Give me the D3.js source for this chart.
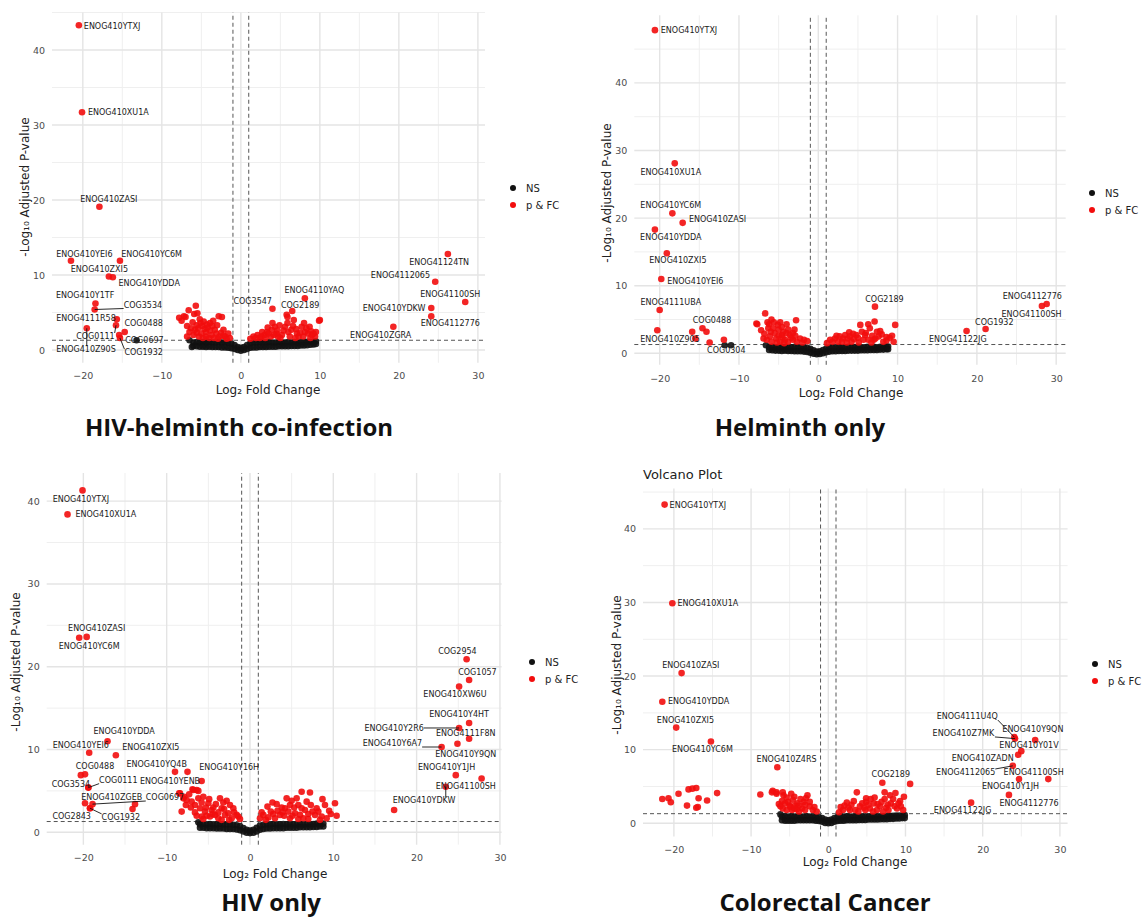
<!DOCTYPE html>
<html>
<head>
<meta charset="utf-8">
<script src="https://cdn.jsdelivr.net/npm/d3@7"></script>
<style>
  body { margin: 0; background: #fff; }
  svg text { font-family: "DejaVu Sans", sans-serif; }
  svg text.title { font-family: "Open Sans", sans-serif; font-weight: 700; }
</style>
</head>
<body>
<svg id="chart" width="1143" height="920"></svg>
<script>
// tick values shared by all four plots
var xTicks = [-20, -10, 0, 10, 20, 30];
var xMinor = [-25, -15, -5, 5, 15, 25];
var yTicks = [0, 10, 20, 30, 40];
var yMinor = [5, 15, 25, 35, 45];
var legendKeys = ["NS", "p & FC"];
var fcCut = 1;          // log2 fold change cut-off
var pCut = 1.3;         // -log10(0.05)

// ---------- HIV-helminth co-infection ----------
var ns1 = [[-6.0,1.0],[-5.6,1.05],[-5.2,1.0],[-4.8,1.05],[-4.4,1.0],[-4.0,1.05],[-3.6,1.0],[-3.2,1.0],[-2.8,1.05],[-2.4,1.0],[-2.0,1.0],[-1.6,0.95],[-1.2,0.85],[-0.8,0.65],[-0.4,0.4],[0,0.3],[0.4,0.4],[0.8,0.65],[1.2,0.9],[1.6,1.0],[2.0,1.0],[2.4,1.05],[2.8,1.0],[3.2,1.0],[3.6,1.05],[4.0,1.0],[4.4,1.0],[4.8,1.05],[5.2,1.0],[5.6,1.0],[6.0,1.05],[6.4,1.0],[6.8,1.05],[7.2,1.0],[7.6,1.05],[8.0,1.05],[8.4,1.1],[8.8,1.1],[9.2,1.1],[9.5,1.15],
  [-6.0,0.55],[-5.6,0.5],[-5.2,0.45],[-4.8,0.45],[-4.4,0.4],[-4.0,0.45],[-3.6,0.4],[-3.2,0.4],[-2.8,0.4],[-2.4,0.35],[-2.0,0.35],[-1.6,0.3],[-1.2,0.25],[-0.8,0.15],[-0.4,0.0],[0,-0.1],[0.4,0.0],[0.8,0.15],[1.2,0.3],[1.6,0.35],[2.0,0.35],[2.4,0.4],[2.8,0.4],[3.2,0.4],[3.6,0.45],[4.0,0.45],[4.4,0.45],[4.8,0.5],[5.2,0.5],[5.6,0.5],[6.0,0.5],[6.4,0.55],[6.8,0.55],[7.2,0.55],[7.6,0.6],[8.0,0.6],[8.4,0.65],[8.8,0.7],[9.2,0.75],[9.5,0.8],
  [-6.5,1.3],[-6.2,0.4],[-13.2,1.3]];
var sig1 = [[-7.8,4.3],[-7.2,4.5],[-6.6,5.3],[-5.7,5.9],[-6.1,3.7],[-5.9,4.8],[-5.6,3.3],[-5.1,3.6],[-4.9,3.2],[-5.4,2.9],[-5.8,2.7],[-4.6,2.8],[-3.9,3.6],[-3.6,3.2],[-3.3,2.7],[-2.8,4.5],[-2.4,4.4],[-4.4,2.4],[-5.0,2.2],[-3.1,2.2],[-2.5,2.3],[-3.7,2.0],[-2.0,1.8],[-1.4,1.6],[-2.7,1.8],[-6.5,2.4],[-5.3,1.8],[-4.4,1.8],[-6.0,2.0],[-4.0,1.6],[-3.4,1.6],[-5.5,4.9],[-7.0,4.4],[-4.2,3.0],[-1.8,1.5],
  [-7.5,3.9],[-6.8,3.2],[-6.3,2.9],[-5.2,4.1],[-4.7,3.8],[-4.3,3.4],[-3.5,3.9],[-3.0,3.3],[-2.2,2.7],[-1.6,2.2],[-5.6,2.3],[-4.8,1.6],[-2.9,1.5],[-6.8,1.8],[-3.9,2.6],[-2.2,1.9],
  [1.6,1.8],[2.1,2.0],[2.7,2.4],[3.3,2.4],[3.9,2.7],[4.5,2.2],[4.9,3.3],[5.6,3.1],[5.9,3.6],[5.8,4.7],[6.4,2.7],[6.7,4.0],[7.1,2.2],[7.7,3.1],[8.1,2.4],[8.5,2.2],[8.7,3.1],[9.0,2.0],[9.9,3.9],[5.2,2.0],[3.8,1.8],[2.4,1.6],[3.0,2.0],[4.7,1.8],[6.2,1.8],[7.3,1.8],[7.9,1.8],[9.4,1.8],[6.0,2.4],[4.3,3.1],[10.0,4.0],[5.9,4.4],[1.2,1.5],[8.8,1.6],[3.5,2.2],
  [1.9,1.6],[2.6,1.8],[3.4,3.0],[4.0,3.6],[4.6,2.6],[5.0,1.6],[5.4,2.6],[6.6,3.2],[7.0,2.8],[7.5,2.3],[8.3,2.9],[8.9,2.5],[9.2,2.2],[6.9,1.6],[4.2,2.0],[3.1,1.6],[8.0,3.6],[9.5,2.4]];
// name, log2FC, -log10 p, label x, label y, leader line
var lab1 = [["ENOG410YTXJ",-20.5,43.3,-16.3,43.1,0],["ENOG410XU1A",-20.1,31.7,-15.5,31.7,0],["ENOG410ZASI",-17.9,19.1,-16.7,20.1,0],
  ["ENOG410YEI6",-21.5,11.9,-19.8,12.8,0],["ENOG410YC6M",-15.3,11.9,-11.3,12.8,0],["ENOG410ZXI5",-16.7,9.8,-17.9,10.8,0],
  ["ENOG410YDDA",-16.2,9.7,-11.6,8.9,0],["ENOG410Y1TF",-18.4,6.2,-19.7,7.3,0],["COG3534",-18.5,5.4,-12.4,6.0,1],
  ["ENOG4111R58",-15.7,4.1,-19.6,4.2,0],["COG0488",-14.7,2.4,-12.3,3.6,0],["COG0111",-15.8,3.3,-18.4,1.8,1],
  ["COG0697",-15.4,2.0,-12.2,1.3,0],["ENOG410Z90S",-19.5,2.9,-19.6,0.1,1],["COG1932",-15.3,1.6,-12.3,-0.35,1],
  ["ENOG41124TN",26.2,12.8,25.1,11.7,0],["ENOG4112065",24.6,9.1,20.2,10.0,0],["ENOG41100SH",28.4,6.4,26.5,7.4,0],
  ["ENOG410YDKW",24.1,5.6,19.4,5.6,0],["ENOG4112776",24.1,4.5,26.5,3.5,0],["ENOG410ZGRA",19.3,3.1,17.7,2.0,0],
  ["ENOG4110YAQ",8.1,6.9,9.3,7.9,0],["COG2189",6.5,5.2,7.5,6.0,0],["COG3547",4.0,5.5,1.5,6.5,0]];

// ---------- Helminth only ----------
var ns2 = [[-6.2,0.9],[-5.8,0.95],[-5.4,0.9],[-5.0,0.95],[-4.6,0.9],[-4.2,0.95],[-3.8,0.9],[-3.4,0.9],[-3.0,0.95],[-2.6,0.9],[-2.2,0.9],[-1.8,0.85],[-1.4,0.8],[-1.0,0.65],[-0.6,0.45],[-0.2,0.25],[0.2,0.3],[0.6,0.5],[1.0,0.7],[1.4,0.85],[1.8,0.9],[2.2,0.9],[2.6,0.95],[3.0,0.9],[3.4,0.9],[3.8,0.95],[4.2,0.9],[4.6,0.9],[5.0,0.95],[5.4,0.9],[5.8,0.9],[6.2,0.95],[6.6,0.9],[7.0,0.95],[7.4,0.9],[7.8,0.95],[8.2,0.95],[8.6,1.0],[8.8,1.0],
  [-6.2,0.5],[-5.8,0.45],[-5.4,0.4],[-5.0,0.4],[-4.6,0.35],[-4.2,0.4],[-3.8,0.35],[-3.4,0.35],[-3.0,0.3],[-2.6,0.3],[-2.2,0.3],[-1.8,0.25],[-1.4,0.2],[-1.0,0.1],[-0.6,-0.05],[-0.2,-0.15],[0.2,-0.1],[0.6,0.0],[1.0,0.15],[1.4,0.25],[1.8,0.3],[2.2,0.3],[2.6,0.35],[3.0,0.35],[3.4,0.35],[3.8,0.4],[4.2,0.4],[4.6,0.4],[5.0,0.4],[5.4,0.45],[5.8,0.45],[6.2,0.45],[6.6,0.5],[7.0,0.5],[7.4,0.5],[7.8,0.55],[8.2,0.55],[8.6,0.6],[8.8,0.6],
  [-6.6,1.2],[-11.0,1.2]];
var sig2 = [[-7.7,4.3],[-6.7,5.9],[-6.2,4.3],[-6.3,3.7],[-5.7,3.7],[-5.0,3.5],[-4.4,3.2],[-3.8,3.5],[-2.8,4.9],[-3.6,2.7],[-6.1,2.5],[-5.3,2.2],[-4.6,2.7],[-4.2,2.0],[-3.2,2.0],[-2.3,2.2],[-1.4,1.8],[-5.9,1.7],[-4.8,1.7],[-3.8,1.7],[-5.5,3.0],[-3.2,3.0],[-4.6,3.9],[-2.7,1.7],[-6.5,2.0],[-5.1,4.2],[-4.0,4.3],
  [-7.2,3.4],[-6.8,2.9],[-6.0,3.2],[-5.6,4.6],[-5.0,2.6],[-4.5,2.3],[-4.0,3.0],[-3.4,2.3],[-2.9,2.6],[-2.0,1.6],[-6.4,4.6],[-5.2,1.6],[-4.3,1.5],[-3.0,3.5],[-1.8,2.0],[-6.9,2.2],[-5.9,5.0],[-4.8,4.6],
  [1.5,2.0],[2.1,2.2],[2.7,2.5],[3.4,2.7],[4.0,2.5],[4.8,2.7],[5.3,4.2],[5.9,2.7],[6.3,4.3],[6.5,3.7],[7.1,4.7],[7.4,3.2],[7.6,2.5],[9.0,2.3],[9.7,4.2],[9.5,1.7],[8.2,1.7],[6.3,2.0],[4.2,1.7],[3.0,1.7],[2.5,1.7],[5.7,2.0],[3.7,2.2],[7.0,2.0],[1.1,1.5],[8.6,1.9],
  [1.8,1.7],[2.3,2.6],[3.1,2.2],[3.6,1.6],[4.4,2.9],[4.5,2.1],[5.0,2.3],[5.5,3.2],[6.0,3.0],[6.8,2.6],[7.2,2.2],[8.0,2.8],[8.6,2.4],[9.3,2.6],[7.8,3.3],[5.1,1.6],[6.7,1.6],[3.9,3.1],
  [-7.8,4.4],[-20.3,3.4],[-14.1,3.2],[-15.9,3.2],[-13.7,1.6],[-11.9,2.0]];
var lab2 = [["ENOG410YTXJ",-20.6,47.8,-16.3,47.7,0],["ENOG410XU1A",-18.1,28.1,-18.6,26.7,0],["ENOG410YC6M",-18.4,20.7,-18.6,21.8,0],
  ["ENOG410ZASI",-17.1,19.3,-12.7,19.8,0],["ENOG410YDDA",-20.6,18.3,-18.6,17.1,0],["ENOG410ZXI5",-19.1,14.8,-17.7,13.7,0],
  ["ENOG410YEI6",-19.8,11.0,-15.5,10.6,0],["ENOG4111UBA",-20.0,6.4,-18.6,7.5,0],["COG0488",-14.6,3.7,-13.4,4.8,0],
  ["ENOG410Z905",-15.5,2.2,-18.7,2.1,0],["COG0304",-11.8,1.2,-11.6,0.4,0,"ns"],
  ["COG2189",7.15,6.9,8.35,7.9,0],["ENOG41122JG",18.7,3.3,17.6,2.1,0],["COG1932",21.1,3.6,22.2,4.5,0],
  ["ENOG4112776",28.8,7.3,27.0,8.4,0],["ENOG41100SH",28.2,7.0,26.9,5.8,0]];

// ---------- HIV only ----------
var ns3 = [[-6.0,0.95],[-5.6,1.0],[-5.2,0.95],[-4.8,1.0],[-4.4,0.95],[-4.0,0.95],[-3.6,1.0],[-3.2,0.95],[-2.8,0.95],[-2.4,0.95],[-2.0,0.9],[-1.6,0.85],[-1.2,0.75],[-0.8,0.5],[-0.4,0.3],[0,0.2],[0.4,0.3],[0.8,0.55],[1.2,0.8],[1.6,0.9],[2.0,0.95],[2.4,0.95],[2.8,1.0],[3.2,0.95],[3.6,0.95],[4.0,1.0],[4.4,0.95],[4.8,1.0],[5.2,0.95],[5.6,0.95],[6.0,1.0],[6.4,0.95],[6.8,1.0],[7.2,1.0],[7.6,1.0],[8.0,1.05],[8.4,1.05],[8.8,1.05],
  [-6.0,0.55],[-5.6,0.55],[-5.2,0.5],[-4.8,0.5],[-4.4,0.5],[-4.0,0.45],[-3.6,0.45],[-3.2,0.45],[-2.8,0.4],[-2.4,0.4],[-2.0,0.4],[-1.6,0.35],[-1.2,0.25],[-0.8,0.1],[-0.4,-0.05],[0,-0.1],[0.4,-0.05],[0.8,0.1],[1.2,0.3],[1.6,0.4],[2.0,0.45],[2.4,0.45],[2.8,0.5],[3.2,0.5],[3.6,0.5],[4.0,0.5],[4.4,0.55],[4.8,0.55],[5.2,0.55],[5.6,0.55],[6.0,0.6],[6.4,0.6],[6.8,0.6],[7.2,0.6],[7.6,0.65],[8.0,0.65],[8.4,0.7],[8.8,0.7],
  [-6.2,1.2]];
var sig3 = [[-8.4,4.7],[-8.0,4.1],[-8.2,2.5],[-6.9,5.2],[-6.4,5.1],[-7.9,4.3],[-7.6,3.9],[-7.0,3.7],[-6.6,3.3],[-6.2,4.1],[-5.6,4.3],[-6.0,2.9],[-5.4,2.5],[-5.0,3.5],[-4.6,2.7],[-4.2,2.1],[-3.6,4.1],[-3.4,2.9],[-3.0,2.1],[-2.4,3.3],[-2.0,2.9],[-2.6,2.3],[-1.6,2.1],[-1.2,1.6],[-4.8,1.9],[-3.8,1.7],[-2.2,1.7],[-5.8,1.9],[-6.8,5.1],[-6.2,5.0],[-8.5,4.7],[-4.4,3.0],[-3.2,3.6],[-5.2,2.0],
  [-7.3,4.6],[-7.1,3.0],[-6.6,2.4],[-5.8,3.6],[-5.3,3.0],[-4.9,4.0],[-4.1,3.4],[-3.8,2.4],[-3.1,2.8],[-2.8,3.8],[-1.9,2.4],[-1.4,1.9],[-4.5,2.2],[-5.6,1.6],[-3.4,1.5],[-2.5,1.5],[-7.7,3.3],[-6.4,2.0],
  [1.2,1.7],[1.6,2.1],[2.1,3.1],[2.5,2.5],[3.2,3.4],[3.6,2.1],[4.2,2.9],[4.8,3.3],[5.4,2.3],[5.8,3.3],[6.2,4.9],[6.6,2.7],[6.8,3.7],[7.2,4.8],[7.8,2.1],[8.0,2.9],[8.7,4.0],[9.0,3.3],[9.2,1.7],[10.2,3.5],[10.4,2.0],[3.0,1.7],[4.8,1.7],[6.4,1.7],[8.4,1.5],[4.4,4.1],[5.6,4.1],[2.8,2.2],[3.9,2.4],[7.5,2.5],[9.5,2.6],[5.1,2.0],[1.9,1.5],
  [1.4,2.4],[2.2,1.8],[2.7,3.6],[3.3,2.6],[3.8,3.0],[4.1,2.0],[4.6,2.5],[5.0,3.8],[5.3,3.0],[6.0,2.1],[6.2,2.9],[7.0,2.2],[7.3,3.3],[8.2,2.5],[8.6,1.9],[9.7,2.2],[5.8,1.6],[7.0,1.6],
  [-13.8,3.4],[-14.1,2.8],[-20.3,6.9],[17.3,2.7]];
var lab3 = [["ENOG410YTXJ",-20.1,41.3,-20.3,40.2,0],["ENOG410XU1A",-21.9,38.4,-17.3,38.4,0],["ENOG410ZASI",-19.6,23.6,-18.4,24.6,0],
  ["ENOG410YC6M",-20.5,23.5,-19.3,22.5,0],["ENOG410YDDA",-17.1,11.0,-15.1,12.2,0],["ENOG410YEI6",-19.3,9.6,-20.3,10.5,0],
  ["ENOG410ZXI5",-16.1,9.3,-11.9,10.3,0],["COG0488",-19.8,7.0,-18.6,8.0,0],["COG3534",-19.4,5.4,-21.5,5.8,0],
  ["COG0111",-19.4,5.4,-15.8,6.3,1],["ENOG410YQ4B",-9.0,7.3,-11.2,8.2,0],["ENOG410YENB",-7.5,7.3,-9.6,6.1,0],
  ["ENOG410Y16H",-5.8,6.2,-2.5,7.8,0],["ENOG410ZGEB",-19.8,3.5,-16.6,4.2,0],["COG0697",-18.9,3.4,-10.2,4.2,1],
  ["COG2843",-19.2,2.9,-21.4,1.9,0],["COG1932",-19.2,2.9,-15.5,1.8,1],
  ["COG2954",26.0,20.9,24.9,21.8,0],["COG1057",26.3,18.4,27.3,19.3,0],["ENOG410XW6U",25.1,17.6,24.6,16.7,0],
  ["ENOG410Y4HT",26.3,13.2,25.1,14.2,0],["ENOG410Y2R6",25.1,12.6,17.3,12.5,1],["ENOG4111F8N",26.3,11.3,25.9,11.9,0],
  ["ENOG410Y6A7",23.0,10.3,17.1,10.7,1],["ENOG410Y9QN",24.9,10.7,25.9,9.4,0],["ENOG410Y1JH",24.7,6.9,23.6,7.8,0],
  ["ENOG41100SH",27.8,6.5,25.9,5.5,0],["ENOG410YDKW",23.5,5.5,20.9,3.8,1]];

// ---------- Colorectal Cancer ----------
var ns4 = [[-6.0,0.9],[-5.6,0.95],[-5.2,0.9],[-4.8,0.95],[-4.4,0.9],[-4.0,0.95],[-3.6,0.9],[-3.2,0.9],[-2.8,0.95],[-2.4,0.9],[-2.0,0.9],[-1.6,0.85],[-1.2,0.8],[-0.8,0.7],[-0.4,0.5],[0,0.4],[0.4,0.5],[0.8,0.7],[1.2,0.85],[1.6,0.9],[2.0,0.9],[2.4,0.95],[2.8,0.9],[3.2,0.9],[3.6,0.95],[4.0,0.9],[4.4,0.9],[4.8,0.95],[5.2,0.9],[5.6,0.95],[6.0,0.9],[6.4,0.95],[6.8,0.95],[7.2,0.95],[7.6,1.0],[8.0,1.0],[8.4,1.0],[8.8,1.05],[9.2,1.05],[9.6,1.05],[9.9,1.1],
  [-6.0,0.4],[-5.6,0.35],[-5.2,0.35],[-4.8,0.35],[-4.4,0.35],[-4.0,0.4],[-3.6,0.4],[-3.2,0.4],[-2.8,0.4],[-2.4,0.4],[-2.0,0.4],[-1.6,0.35],[-1.2,0.3],[-0.8,0.2],[-0.4,0.05],[0,0.0],[0.4,0.05],[0.8,0.2],[1.2,0.3],[1.6,0.35],[2.0,0.35],[2.4,0.4],[2.8,0.4],[3.2,0.4],[3.6,0.4],[4.0,0.45],[4.4,0.45],[4.8,0.45],[5.2,0.5],[5.6,0.5],[6.0,0.5],[6.4,0.5],[6.8,0.55],[7.2,0.55],[7.6,0.55],[8.0,0.6],[8.4,0.6],[8.8,0.65],[9.2,0.65],[9.6,0.7],[9.9,0.7],
  [-6.2,1.2]];
var sig4 = [[-21.5,3.3],[-20.7,3.4],[-20.4,2.85],[-19.4,4.0],[-18.1,4.6],[-17.6,4.7],[-17.1,4.8],[-18.3,2.4],[-17.1,2.1],[-16.9,2.2],[-16.8,3.4],[-15.7,3.1],[-14.4,4.1],[-8.8,3.9],[-7.3,4.2],[-6.7,4.0],
  [-7.2,4.4],[-6.7,4.2],[-5.8,3.8],[-5.6,2.7],[-6.2,2.3],[-5.2,2.9],[-4.6,3.2],[-4.0,2.7],[-3.2,2.9],[-2.7,3.8],[-3.4,2.0],[-2.4,2.3],[-2.0,1.8],[-4.7,1.8],[-5.4,1.8],[-4.1,1.9],[-3.0,1.8],[-1.5,1.6],[-5.0,2.4],[-3.8,2.4],[-4.4,3.6],[-5.9,2.0],
  [-6.0,3.0],[-5.9,4.2],[-5.4,3.5],[-4.9,2.2],[-4.3,2.4],[-3.6,3.3],[-3.0,2.5],[-2.4,2.9],[-3.8,1.6],[-1.8,2.2],[-6.4,2.6],[-4.8,4.0],[-2.9,3.4],[-4.4,2.0],
  [1.9,1.8],[2.4,2.8],[3.0,2.5],[3.7,4.2],[4.1,2.3],[4.9,2.9],[5.4,2.0],[5.9,2.7],[6.7,2.3],[7.3,3.3],[7.7,2.5],[8.4,3.3],[8.7,4.1],[9.1,2.7],[9.4,2.3],[9.8,3.6],[9.7,1.8],[3.5,1.8],[4.8,1.8],[6.3,1.8],[7.8,1.8],[2.8,1.8],[10.6,5.35],[7.3,4.2],[4.9,3.4],[1.4,1.5],[5.5,3.3],[8.9,2.0],
  [1.6,2.2],[2.1,2.4],[2.6,2.1],[3.3,3.0],[4.4,2.7],[4.6,2.1],[5.2,2.5],[6.0,3.5],[6.4,2.6],[6.9,2.9],[7.5,2.1],[8.1,2.7],[8.6,2.3],[9.3,3.0],[8.0,3.8],[5.8,1.6],[3.9,1.6],[7.1,1.6]];
var lab4 = [["ENOG410YTXJ",-21.2,43.3,-16.9,43.2,0],["ENOG410XU1A",-20.2,29.9,-15.6,29.9,0],["ENOG410ZASI",-19.0,20.4,-17.8,21.4,0],
  ["ENOG410YDDA",-21.5,16.5,-16.8,16.5,0],["ENOG410ZXI5",-19.7,13.0,-18.5,13.9,0],["ENOG410YC6M",-15.2,11.1,-16.3,10.0,0],
  ["ENOG410Z4RS",-6.6,7.6,-5.4,8.6,0],["COG2189",7.0,5.5,8.1,6.6,0],
  ["ENOG4111U4Q",24.1,11.7,18.0,14.5,1],["ENOG410Z7MK",24.2,11.5,17.5,12.2,1],["ENOG410Y9QN",26.8,11.3,26.5,12.8,0],
  ["ENOG410Y01V",25.0,9.8,26.0,10.5,0],["ENOG410ZADN",24.6,9.3,20.0,8.8,0],["ENOG4112065",23.9,7.8,17.8,6.9,1],
  ["ENOG41100SH",28.5,6.0,26.6,6.9,0],["ENOG410Y1JH",24.7,6.0,23.6,5.0,0],["ENOG4112776",23.4,3.85,26.0,2.7,0],
  ["ENOG41122JG",18.5,2.8,17.4,1.7,0]];

// layout of the four plots (pixels)
var panels = [
  { ns: ns1, sig: sig1, lab: lab1, title: "HIV-helminth co-infection", titleX: 239, titleY: 436,
    xDomain: [-23.9, 30.9], xRange: [52, 485], yDomain: [-1.7, 45], yRange: [362.75, 12.5],
    yTitle: [25, 187], xTitle: [268, 390], legend: [513, 188] },
  { ns: ns2, sig: sig2, lab: lab2, title: "Helminth only", titleX: 800, titleY: 436,
    xDomain: [-23.2, 31.2], xRange: [634.3, 1065.7], yDomain: [-1.7, 50], yRange: [364.8, 15.3],
    yTitle: [607, 193], xTitle: [851, 393], legend: [1092, 193] },
  { ns: ns3, sig: sig3, lab: lab3, title: "HIV only", titleX: 271, titleY: 911,
    xDomain: [-24.4, 30.2], xRange: [46.7, 501.6], yDomain: [-1.5, 43.4], yRange: [844.7, 473.0],
    yTitle: [16, 662], xTitle: [275, 874], legend: [532, 662] },
  { ns: ns4, sig: sig4, lab: lab4, title: "Colorectal Cancer", titleX: 825, titleY: 911, sub: "Volcano Plot",
    xDomain: [-24, 31], xRange: [643, 1067.6], yDomain: [-1.8, 45.5], yRange: [836.5, 488.4],
    yTitle: [617, 665], xTitle: [855, 862], legend: [1095, 664] }
];

var svg = d3.select("#chart");
var red = "#f20d0d", black = "#111";

panels.forEach(function (p) {
    var x = d3.scaleLinear().domain(p.xDomain).range(p.xRange);
    var y = d3.scaleLinear().domain(p.yDomain).range(p.yRange);
    var g = svg.append("g");
    var inX = function (v) { return v >= p.xDomain[0] && v <= p.xDomain[1]; };
    var inY = function (v) { return v >= p.yDomain[0] && v <= p.yDomain[1]; };

    // grid lines
    g.selectAll(".vminor").data(xMinor.filter(inX)).enter().append("line")
        .attr("x1", d => x(d)).attr("x2", d => x(d)).attr("y1", p.yRange[0]).attr("y2", p.yRange[1])
        .attr("stroke", "#efefef").attr("stroke-width", 1);
    g.selectAll(".hminor").data(yMinor.filter(inY)).enter().append("line")
        .attr("y1", d => y(d)).attr("y2", d => y(d)).attr("x1", p.xRange[0]).attr("x2", p.xRange[1])
        .attr("stroke", "#efefef").attr("stroke-width", 1);
    g.selectAll(".vmajor").data(xTicks.filter(inX)).enter().append("line")
        .attr("x1", d => x(d)).attr("x2", d => x(d)).attr("y1", p.yRange[0]).attr("y2", p.yRange[1])
        .attr("stroke", "#e4e4e4").attr("stroke-width", 1.4);
    g.selectAll(".hmajor").data(yTicks.filter(inY)).enter().append("line")
        .attr("y1", d => y(d)).attr("y2", d => y(d)).attr("x1", p.xRange[0]).attr("x2", p.xRange[1])
        .attr("stroke", "#e4e4e4").attr("stroke-width", 1.4);

    // axes (labels only)
    var xAxis = g.append("g").attr("transform", `translate(0, ${p.yRange[0]})`)
        .call(d3.axisBottom(x).tickValues(xTicks).tickSize(0).tickPadding(10).tickFormat(d3.format("d")));
    var yAxis = g.append("g").attr("transform", `translate(${p.xRange[0]}, 0)`)
        .call(d3.axisLeft(y).tickValues(yTicks).tickSize(0).tickPadding(7).tickFormat(d3.format("d")));
    [xAxis, yAxis].forEach(function (a) {
        a.select(".domain").remove();
        a.selectAll("text").attr("fill", "#4d4d4d").style("font-size", "9.5px");
    });

    // cut-off lines
    g.selectAll(".vcut").data([-fcCut, fcCut]).enter().append("line")
        .attr("x1", d => x(d)).attr("x2", d => x(d)).attr("y1", p.yRange[0]).attr("y2", p.yRange[1])
        .attr("stroke", "#555").attr("stroke-width", 1).attr("stroke-dasharray", "4,3");
    g.append("line")
        .attr("x1", p.xRange[0]).attr("x2", p.xRange[1]).attr("y1", y(pCut)).attr("y2", y(pCut))
        .attr("stroke", "#555").attr("stroke-width", 1).attr("stroke-dasharray", "4,3");

    // points
    var nsPts = p.ns.concat(p.lab.filter(d => d[6] === "ns").map(d => [d[1], d[2]]));
    var sigPts = p.sig.concat(p.lab.filter(d => d[6] !== "ns").map(d => [d[1], d[2]]));
    g.selectAll(".ns").data(nsPts).enter().append("circle")
        .attr("cx", d => x(d[0])).attr("cy", d => y(d[1])).attr("r", 3.3)
        .attr("fill", black).attr("opacity", 0.9);
    g.selectAll(".sig").data(sigPts).enter().append("circle")
        .attr("cx", d => x(d[0])).attr("cy", d => y(d[1])).attr("r", 3.3)
        .attr("fill", red).attr("opacity", 0.9);

    // labels + leader lines
    p.lab.forEach(function (d) {
        var t = g.append("text")
            .attr("x", x(d[3])).attr("y", y(d[4]))
            .attr("text-anchor", "middle").attr("dominant-baseline", "central")
            .style("font-size", "8px").attr("fill", "#1a1a1a")
            .text(d[0]);
        if (d[5]) {
            var bb = t.node().getBBox();
            var px = x(d[1]), py = y(d[2]);
            var cx = Math.max(bb.x, Math.min(px, bb.x + bb.width));
            var cy = Math.max(bb.y + 1, Math.min(py, bb.y + bb.height - 1));
            g.append("line").attr("x1", px).attr("y1", py).attr("x2", cx).attr("y2", cy)
                .attr("stroke", "#111").attr("stroke-width", 0.9);
        }
    });

    // axis titles
    g.append("text")
        .attr("transform", `translate(${p.yTitle[0]}, ${p.yTitle[1]}) rotate(-90)`)
        .attr("text-anchor", "middle").attr("dominant-baseline", "central")
        .style("font-size", "12px").attr("fill", "#222")
        .text("-Log\u2081\u2080 Adjusted P-value");
    g.append("text")
        .attr("x", p.xTitle[0]).attr("y", p.xTitle[1])
        .attr("text-anchor", "middle").attr("dominant-baseline", "central")
        .style("font-size", "12px").attr("fill", "#222")
        .text("Log\u2082 Fold Change");

    // legend
    var leg = g.selectAll(".leg").data(legendKeys).enter().append("g")
        .attr("transform", (d, i) => `translate(${p.legend[0]}, ${p.legend[1] + i * 17})`);
    leg.append("circle").attr("r", 3).attr("fill", (d, i) => i ? red : black);
    leg.append("text").attr("x", 13).attr("dominant-baseline", "central")
        .style("font-size", "10px").attr("fill", "#222").text(d => d);

    if (p.sub) {
        g.append("text").attr("x", p.xRange[0]).attr("y", p.yRange[1] - 9)
            .style("font-size", "13px").attr("fill", "#222").text(p.sub);
    }

    // panel caption
    svg.append("text").attr("class", "title")
        .attr("x", p.titleX).attr("y", p.titleY)
        .attr("text-anchor", "middle")
        .style("font-size", "24px").attr("fill", "#111")
        .text(p.title);
});
</script>
</body>
</html>
